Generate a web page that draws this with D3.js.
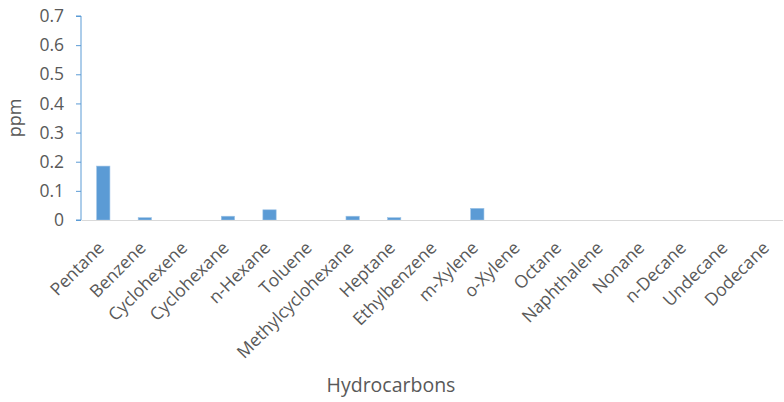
<!DOCTYPE html>
<html>
<head>
<meta charset="utf-8">
<script src="https://cdn.jsdelivr.net/npm/d3@7"></script>
<style>
  html, body { margin: 0; padding: 0; background: #fff; }
  svg { display: block; font-family: "Open Sans", "Noto Sans", sans-serif; }
</style>
</head>
<body>
<svg id="chart" width="784" height="402"></svg>
<script>
// Hydrocarbon concentrations (ppm)
const categories = ["Pentane", "Benzene", "Cyclohexene", "Cyclohexane", "n-Hexane", "Toluene",
  "Methylcyclohexane", "Heptane", "Ethylbenzene", "m-Xylene", "o-Xylene", "Octane",
  "Naphthalene", "Nonane", "n-Decane", "Undecane", "Dodecane"];
const values = [0.185, 0.008, 0, 0.013, 0.035, 0, 0.013, 0.008, 0, 0.04, 0, 0, 0, 0, 0, 0, 0];
const yTicks = [0, 0.1, 0.2, 0.3, 0.4, 0.5, 0.6, 0.7];

const svg = d3.select("#chart");
const plotLeft = 82.5, plotRight = 789, plotTop = 16, plotBottom = 220;

const x = d3.scaleBand().domain(categories).range([plotLeft, plotRight]).paddingInner(0.68).paddingOuter(0.34);
const y = d3.scaleLinear().domain([0, 0.7]).range([plotBottom, plotTop]);

// bars
svg.append("g").selectAll("rect").data(values).join("rect")
  .attr("x", (d, i) => x(categories[i]))
  .attr("width", x.bandwidth())
  .attr("y", d => y(d))
  .attr("height", d => y(0) - y(d))
  .attr("fill", "#5B9BD5")
  .attr("stroke", "#9DC3E6")
  .attr("stroke-width", 0.6);

// x axis line
svg.append("line")
  .attr("x1", plotLeft - 1).attr("x2", 783)
  .attr("y1", plotBottom + 0.5).attr("y2", plotBottom + 0.5)
  .attr("stroke", "#D9D9D9").attr("stroke-width", 1.2);

// y axis
const yAxis = svg.append("g")
  .attr("transform", `translate(${plotLeft - 1.5},0)`)
  .call(d3.axisLeft(y).tickValues(yTicks).tickSize(5).tickPadding(12).tickFormat(d => d === 0 ? "0" : d3.format(".1f")(d)));
yAxis.select(".domain").attr("stroke", "#5B9BD5").attr("d", `M-5,${plotTop}H0V${plotBottom}H-5`);
yAxis.selectAll(".tick line").attr("stroke", "#5B9BD5");
yAxis.selectAll(".tick text").attr("fill", "#595959").attr("font-size", "17.5px")
  .attr("font-family", "'Open Sans', sans-serif");

// category labels, rotated
svg.append("g").selectAll("text").data(categories).join("text")
  .attr("transform", d => `translate(${x(d) + x.bandwidth() / 2 + 2},${plotBottom + 29}) rotate(-45)`)
  .attr("text-anchor", "end")
  .attr("fill", "#595959")
  .attr("font-size", "17.5px")
  .text(d => d);

// axis titles
svg.append("text")
  .attr("transform", `translate(21,118) rotate(-90)`)
  .attr("text-anchor", "middle")
  .attr("fill", "#595959").attr("font-size", "18px")
  .text("ppm");

svg.append("text")
  .attr("x", 391).attr("y", 392)
  .attr("text-anchor", "middle")
  .attr("fill", "#595959").attr("font-size", "19.5px")
  .text("Hydrocarbons");
</script>
</body>
</html>
